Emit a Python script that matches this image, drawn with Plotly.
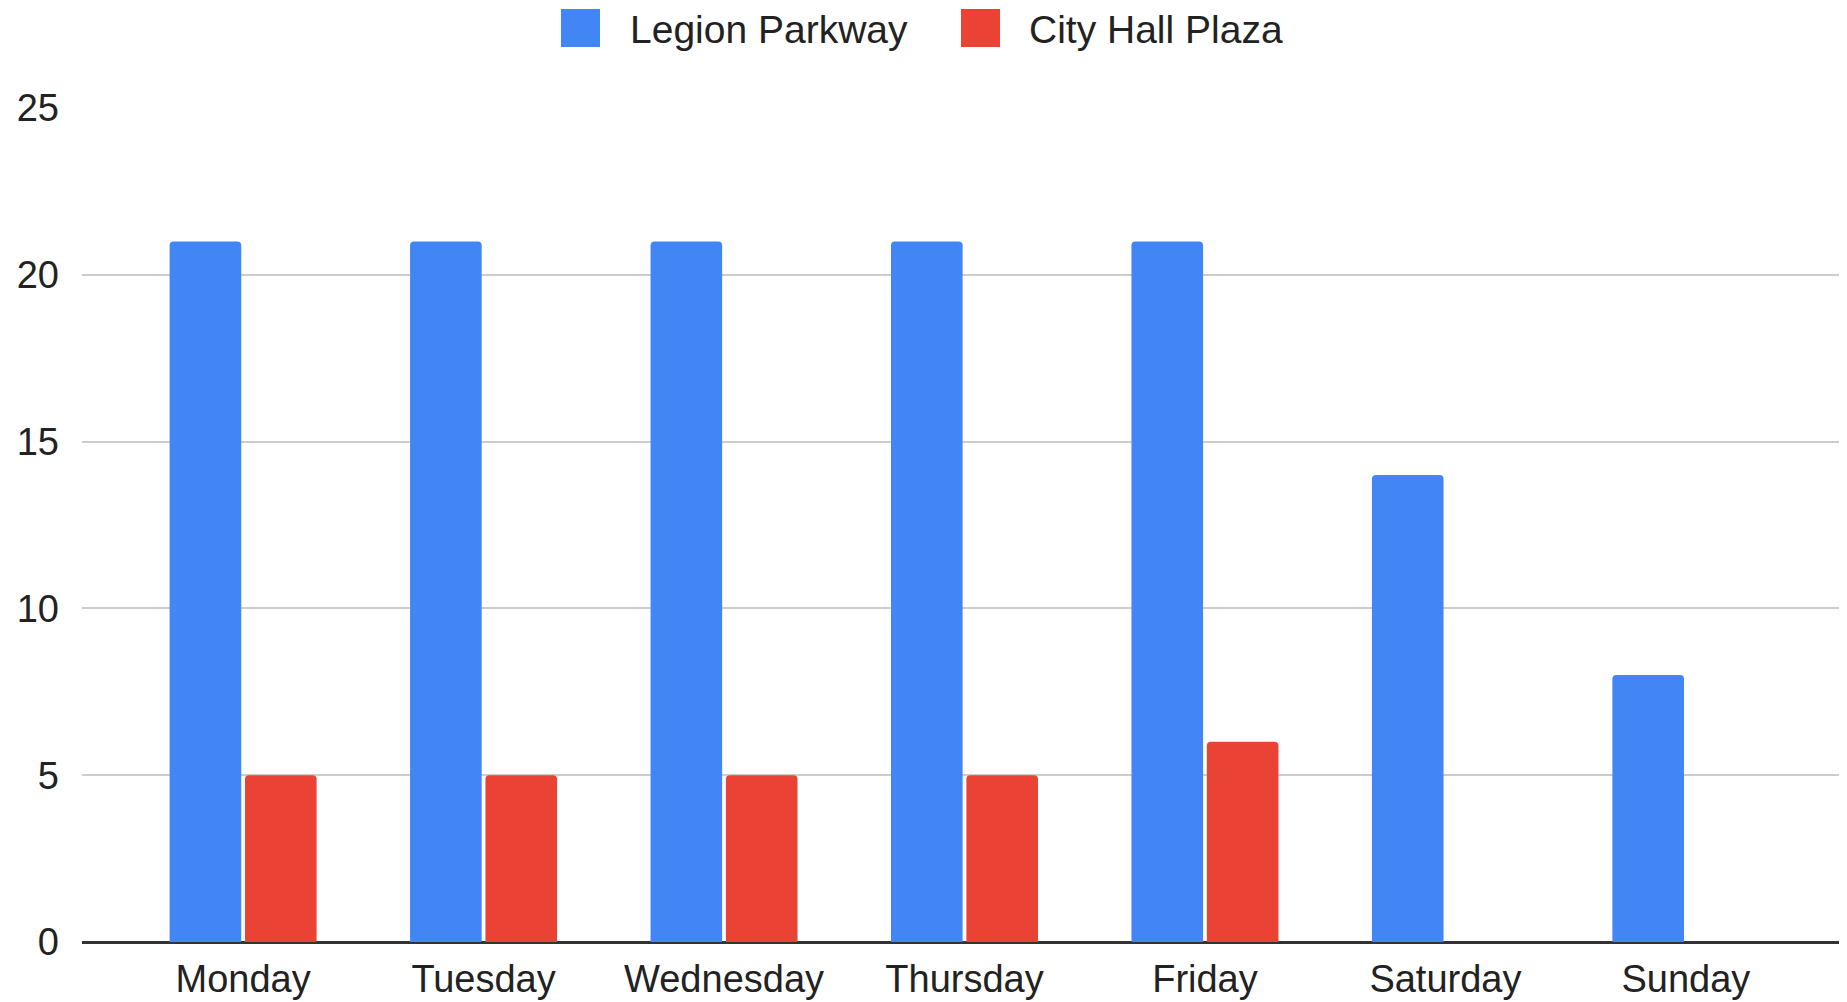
import plotly.graph_objects as go

days = ["Monday", "Tuesday", "Wednesday", "Thursday", "Friday", "Saturday", "Sunday"]
legion_parkway = [21, 21, 21, 21, 21, 14, 8]
city_hall_plaza = [5, 5, 5, 5, 6, None, None]
series_names = ["Legion Parkway", "City Hall Plaza"]
series_colors = ["#4285F4", "#EA4335"]
y_ticks = [0, 5, 10, 15, 20, 25]

FONT = "Liberation Sans, Arial, Helvetica, sans-serif"
FS = 38
LFS = 39

# the page body adds an 8px margin top/left; compensate
OFF = 8
W, H = 1847 - OFF, 1002 - OFF
L, R, T, B = 82 - OFF, 0, 108 - OFF, 60
PW, PH = W - L - R, H - T - B

fig = go.Figure()
for name, vals, col in zip(series_names, [legion_parkway, city_hall_plaza], series_colors):
    fig.add_trace(go.Bar(x=days, y=vals, name=name, marker=dict(color=col, line=dict(width=0)),
                         showlegend=False))

# custom legend (large swatches like the reference); positions in page pixels
legend_items = [(561, 628), (961, 1027)]
shapes = []
annotations = []
for (sx, tx), name, col in zip(legend_items, series_names, series_colors):
    shapes.append(dict(type="rect", xref="paper", yref="paper",
                       x0=(sx - OFF - L) / PW, x1=(sx + 39 - OFF - L) / PW,
                       y0=1 + (T - (47 - OFF)) / PH, y1=1 + (T - (9 - OFF)) / PH,
                       fillcolor=col, line=dict(width=0), layer="above"))
    annotations.append(dict(xref="paper", yref="paper", x=(tx - OFF - L) / PW,
                            y=1 + (T - (30 - OFF)) / PH, xanchor="left", yanchor="middle",
                            text=name, showarrow=False, font=dict(family=FONT, size=LFS, color="#222222")))

fig.update_layout(
    width=W, height=H,
    margin=dict(l=L, r=R, t=T, b=B, autoexpand=False),
    paper_bgcolor="white", plot_bgcolor="white",
    barmode="group", bargap=0.373, bargroupgap=0.05, barcornerradius=4,
    font=dict(family=FONT, size=FS, color="#222222"),
    shapes=shapes, annotations=annotations,
    xaxis=dict(range=[-0.67, 6.67], showgrid=False, showline=False, zeroline=False,
               ticks="", tickfont=dict(family=FONT, size=FS, color="#222222"),
               ticklabelstandoff=11, automargin=False),
    yaxis=dict(range=[0, 25], tickvals=y_ticks, showgrid=True, gridcolor="#cccccc", gridwidth=2,
               zeroline=True, zerolinecolor="#333333", zerolinewidth=3, showline=False,
               ticks="", tickfont=dict(family=FONT, size=FS, color="#222222"),
               ticklabelstandoff=22, automargin=False),
)

fig.write_html("out.html")
